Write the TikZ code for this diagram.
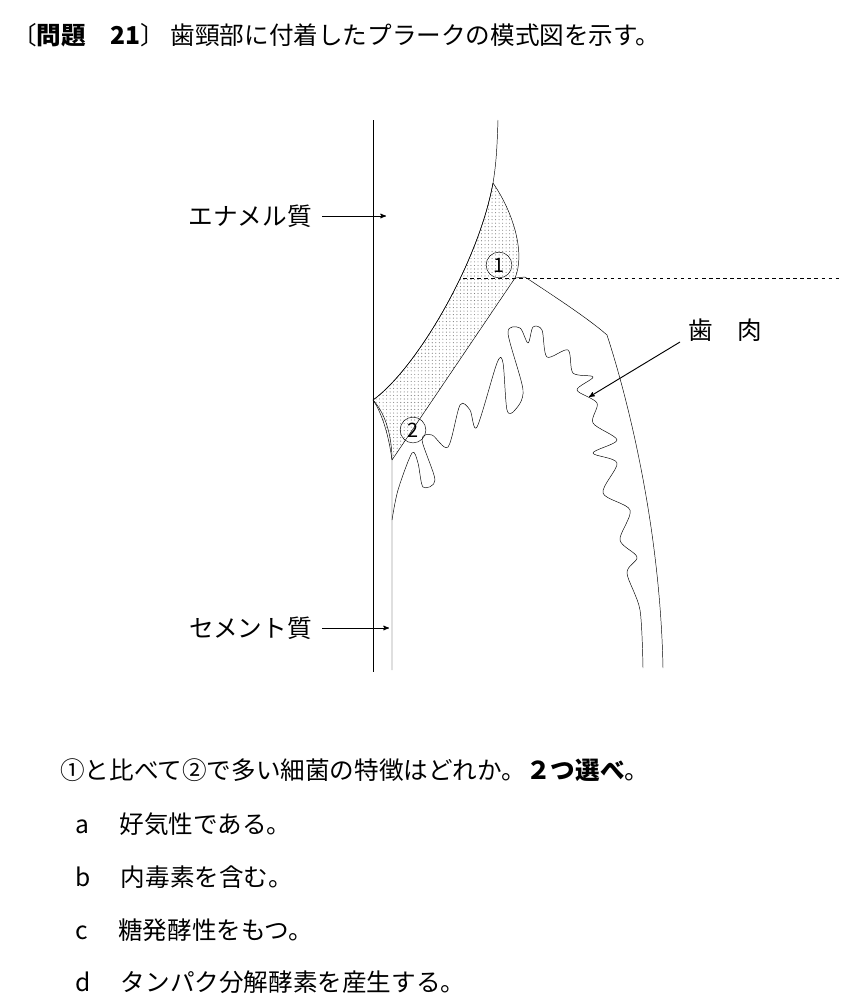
\documentclass[tikz,border=0pt]{standalone}
\usepackage{fontspec}
\setmainfont{Noto Sans CJK JP}
\usepackage{tikz}
\usetikzlibrary{arrows,patterns}

\begin{document}
\begin{tikzpicture}[x=0.03cm,y=-0.03cm,>=stealth',line join=bevel,
  txt/.style={anchor=west,inner sep=0pt,font=\fontsize{21}{24}\selectfont},
  lbl/.style={anchor=east,inner sep=0pt,font=\fontsize{21}{24}\selectfont},
  num/.style={circle,draw,inner sep=0pt,minimum size=22pt,font=\fontsize{17}{17}\selectfont}]
  \useasboundingbox (0,0) rectangle (853,1000);
%%
% Title
  \node[txt] (title) at (12,35) {〔\textbf{問題　21}〕 歯頸部に付着したプラークの模式図を示す。};
%
% Tooth: enamel and cementum
  \draw[thin] (373,120) -- (373,672);
  \draw[thin] (498,120) .. controls (497,150) and (496,165) .. (493,183)
     coordinate (tip) .. controls (478,265) and (415,370) .. (373,400) coordinate (cej);
  % Plaque
  \draw[thin,pattern=dots,pattern color=gray] (tip) .. controls (515,215) and (525,255) .. (515,278)
     coordinate (pk) -- (392,460) coordinate (pb) .. controls (388,430) and (380,410) .. (cej)
     .. controls (415,370) and (478,265) .. (tip);
  \draw[thin] (cej) .. controls (387,415) and (392,440) .. (pb) -- (392,670);
  \draw[thin,dashed] (463,278) -- (840,278);
%
% Gingiva
  \draw[thin] (pk) -- (525,277) .. controls (560,300) and (590,320) .. (607,335)
     .. controls (625,390) and (660,520) .. (663,668);
  \draw[thin,line join=round] plot[smooth,tension=0.5] coordinates {
     (392,520) (398,490) (412,453) (418,463) (423,487) (435,480) (422,440) (432,435)
     (448,447) (460,405) (470,410) (477,427) (497,363) (503,363) (507,410) (515,410)
     (523,390) (508,333) (520,328) (528,343) (533,327) (542,330) (547,357) (568,350)
     (573,373) (593,377) (577,390) (597,403) (593,423) (617,440) (593,453) (617,463)
     (603,493) (630,510) (620,540) (637,557) (627,573) (640,610) (643,668)};
%
% Labels
  \node[num] (one) at (499,265) {1};
  \node[num] (two) at (413,430) {2};
  \node[lbl] (enamel) at (312,216) {エナメル質};
  \coordinate (enamelP) at (386,216);
  \draw[->,thick] (enamel.east) ++(10,0) -- (enamelP);
  \node[lbl] (cement) at (312,628) {セメント質};
  \coordinate (cementP) at (389,628);
  \draw[->,thick] (cement.east) ++(10,0) -- (cementP);
  \node[txt] (gum) at (688,330) {歯　肉};
  \coordinate (gumP) at (589,397);
  \draw[->,thick] (680,342) -- (gumP);
%
% Question
  \node[txt] (q) at (60,770) {①と比べて②で多い細菌の特徴はどれか。\textbf{２つ選べ}。};
  \node[txt] (a) at (75,824) {a\hspace{26pt}好気性である。};
  \node[txt] (b) at (75,877) {b\hspace{26pt}内毒素を含む。};
  \node[txt] (c) at (75,930) {c\hspace{26pt}糖発酵性をもつ。};
  \node[txt] (d) at (75,982) {d\hspace{26pt}タンパク分解酵素を産生する。};
\end{tikzpicture}
\end{document}
